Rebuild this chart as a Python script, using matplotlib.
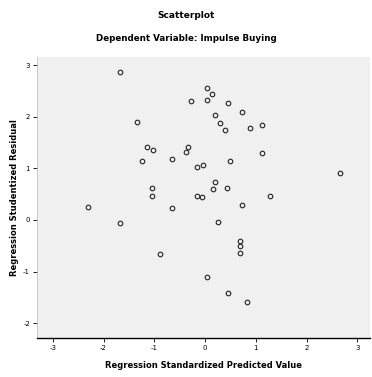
import matplotlib
matplotlib.use("Agg")
import matplotlib.pyplot as plt

# SPSS style residual scatterplot
pred = [-1.68, -1.34, -0.28, 0.04, 0.14, 0.04, 0.45, 0.73, 0.20, 0.30,
        0.39, 0.89, 1.12, 1.12, 0.49, 2.66, -1.14, -1.03, -1.24, -0.65,
        -0.34, -0.37, -0.16, -0.04, 0.20, 0.16, 0.43, -1.05, -1.05, -0.16,
        -0.06, -0.65, 0.73, 1.28, -2.31, -1.68, 0.26, 0.69, 0.69, 0.69,
        -0.89, 0.04, 0.45, 0.83]
resid = [2.87, 1.90, 2.31, 2.56, 2.44, 2.33, 2.27, 2.09, 2.03, 1.88,
         1.74, 1.78, 1.84, 1.30, 1.14, 0.91, 1.41, 1.36, 1.14, 1.18,
         1.41, 1.32, 1.03, 1.07, 0.74, 0.60, 0.62, 0.62, 0.47, 0.47,
         0.45, 0.23, 0.29, 0.47, 0.25, -0.06, -0.04, -0.41, -0.50, -0.64,
         -0.66, -1.10, -1.41, -1.59]

x_ticks = [-3, -2, -1, 0, 1, 2, 3]
y_ticks = [-2, -1, 0, 1, 2, 3]

plt.rcParams["axes.unicode_minus"] = False

fig = plt.figure(figsize=(3.72, 3.77), dpi=100)
ax = fig.add_axes([0.0995, 0.103, 0.895, 0.746])
ax.set_facecolor("#f0f0f0")

ax.plot(pred, resid, linestyle="none", marker="o", markersize=3.3,
        markerfacecolor="none", markeredgecolor="#222222", markeredgewidth=0.8)

ax.set_xlim(-3.31, 3.25)
ax.set_ylim(-2.29, 3.16)
ax.set_xticks(x_ticks)
ax.set_yticks(y_ticks)
ax.tick_params(labelsize=5, length=3, width=0.6, pad=2)

for s in ["top", "right"]:
    ax.spines[s].set_visible(False)
ax.spines["left"].set_color("#bbbbbb")
ax.spines["left"].set_linewidth(0.5)
ax.spines["bottom"].set_linewidth(1.0)

ax.set_xlabel("Regression Standardized Predicted Value", fontsize=6,
              fontweight="bold", labelpad=7)
ax.set_ylabel("Regression Studentized Residual", fontsize=6,
              fontweight="bold", labelpad=3)

fig.text(0.5, 0.96, "Scatterplot", ha="center", va="center",
         fontsize=6.5, fontweight="bold")
fig.text(0.5, 0.899, "Dependent Variable: Impulse Buying", ha="center",
         va="center", fontsize=6.3, fontweight="bold")

fig.savefig("out.png", dpi=100)
